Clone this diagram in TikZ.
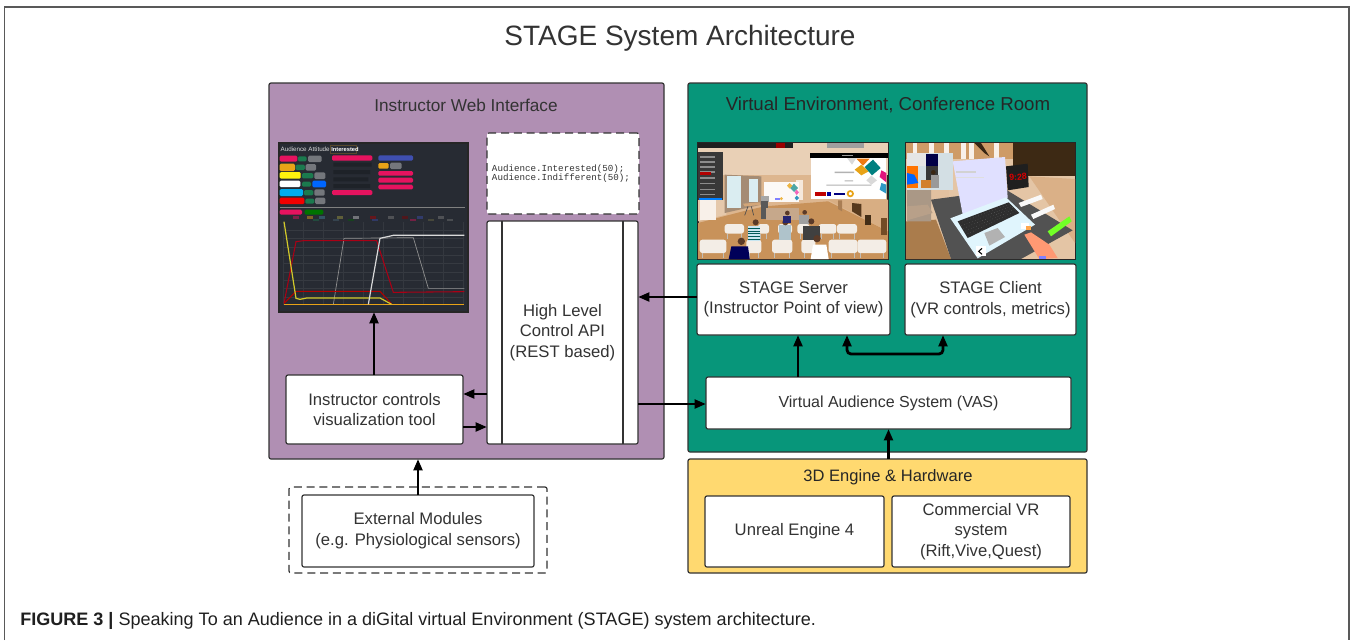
\documentclass[tikz,border=0pt]{standalone}
\usepackage{fontspec}
\setmainfont{Liberation Sans}
\setmonofont{Liberation Mono}
\usetikzlibrary{arrows.meta,calc}
\definecolor{txt}{HTML}{333333}
\definecolor{edge}{HTML}{333333}
\definecolor{purp}{HTML}{B08FB3}
\definecolor{teal1}{HTML}{07967A}
\definecolor{yell}{HTML}{FFD970}
\definecolor{dbg}{HTML}{272B33}
\definecolor{pk}{HTML}{E6135F}
\definecolor{gn}{HTML}{1B7A4E}
\definecolor{gy}{HTML}{74777C}
\definecolor{or}{HTML}{E8A317}
\definecolor{blu}{HTML}{3F4FB0}
\definecolor{wood}{HTML}{C8925A}
\definecolor{wall}{HTML}{DDB68F}
\definecolor{chair}{HTML}{F3EDE6}
\definecolor{skin}{HTML}{5A3A28}
\tikzset{
  panel/.style={draw=edge,line width=0.9pt,rounded corners=1.5pt,inner sep=0pt,outer sep=0pt},
  wbox/.style={panel,fill=white,text=txt,align=center,font=\fontsize{12.5}{15.5}\selectfont},
  dashbox/.style={wbox,dash pattern=on 6pt off 3.6pt},
  title/.style={text=#1,inner sep=0pt},
  title/.default=txt,
  arr/.style={line width=2.1pt,draw=black,-{Triangle[length=8.5pt,width=6.5pt]}},
  arrb/.style={line width=2.1pt,draw=black,{Triangle[length=8.5pt,width=6.5pt]}-{Triangle[length=8.5pt,width=6.5pt]},rounded corners=3pt},
  shot/.style={draw=black!85,line width=1.1pt,inner sep=0pt,outer sep=0pt}
}
\newcommand\bx[7]{\node[#1,minimum width={(#5-#3)*0.75pt},minimum height={(#6-#4)*0.75pt}] (#2) at ({(#3+#5)/2},{(#4+#6)/2}) {#7};}
\newcommand\rr[5]{\fill[#1,rounded corners=1pt] (#2,#3) rectangle (#4,#5);}
\begin{document}
\begin{tikzpicture}[x=0.75pt,y=-0.75pt]
\useasboundingbox (0,0) rectangle (1352,640);
% outer frame
\coordinate (fa) at (4.5,640); \coordinate (fb) at (4.5,7); \coordinate (fc) at (1349,7); \coordinate (fd) at (1349,640);
\draw[draw=black!65,line width=0.9pt] (fa) -- (fb) -- (fc) -- (fd);
\node[text=txt,font=\fontsize{21}{25}\selectfont,inner sep=0pt] (maintitle) at (680,38) {STAGE System Architecture};
% panels
\bx{panel,fill=purp}{web}{269}{83}{664}{459}{}
\bx{panel,fill=teal1}{venv}{688}{83}{1087}{452}{}
\bx{panel,fill=yell}{eng}{688}{459}{1087}{573}{}
\node[title,font=\fontsize{12.9}{15}\selectfont] (webt) at (466,105) {Instructor Web Interface};
\node[title=black!85,font=\fontsize{14}{15}\selectfont] (vent) at (888,105) {Virtual Environment, Conference Room};
\node[title=black!85,font=\fontsize{12.4}{15}\selectfont] (engt) at (888,477) {3D Engine \& Hardware};
% boxes
\bx{dashbox}{code}{487}{133}{639}{214}{}
\node[inner sep=0pt,text=txt,align=left,font=\ttfamily\fontsize{6.9}{6.75}\selectfont] (codet) at (561,174) {Audience.Interested(50);\\Audience.Indifferent(50);};
\bx{wbox}{api}{487}{221}{638}{444}{High Level\\Control API\\(REST based)}
\draw[edge,line width=0.9pt] (api.north -| 502,0) -- (api.south -| 502,0);
\draw[edge,line width=0.9pt] (api.north -| 623,0) -- (api.south -| 623,0);
\bx{wbox}{ctl}{286}{375}{463}{444}{Instructor controls\\visualization tool}
\bx{dashbox}{extout}{289}{487}{547}{573}{}
\bx{wbox}{ext}{302}{495}{534}{567}{External Modules\\(e.g. Physiological sensors)}
\bx{wbox}{srv}{697}{264}{890}{335}{STAGE Server\\(Instructor Point of view)}
\bx{wbox}{cli}{905}{264}{1076}{335}{STAGE Client\\(VR controls, metrics)}
\bx{wbox,font=\fontsize{12}{15}\selectfont}{vas}{706}{377}{1071}{429}{Virtual Audience System (VAS)}
\bx{wbox}{ue}{705}{496}{884}{567}{Unreal Engine 4}
\bx{wbox}{vr}{892}{496}{1070}{567}{Commercial VR\\system\\(Rift,Vive,Quest)}
% dashboard screenshot
\bx{shot,fill=dbg}{dash}{279}{143}{468}{312}{}
\begin{scope}[shift={(270,130)},x=0.25pt,y=-0.25pt]
\node[text=white!85!black,font=\fontsize{4.7}{6}\selectfont,anchor=west,inner sep=0pt] (dt1) at (31,59) {Audience Attitude};
\draw[or!25!dbg,line width=.3pt] (180,47) rectangle (260,71);
\node[text=white,font=\bfseries\fontsize{4.3}{6}\selectfont,anchor=west,inner sep=0pt] (dt2) at (183,59) {Interested};
\rr{pk}{29}{77}{82}{95}\rr{gn}{84}{79}{110}{94}\rr{gy,rounded corners=8pt}{114}{77}{155}{96}
\rr{or}{29}{101}{75}{123}\rr{gn}{77}{104}{105}{120}\rr{gy,rounded corners=8pt}{107}{102}{138}{122}
\rr{yellow!95!white}{29}{126}{92}{146}\rr{gn}{96}{129}{130}{145}\rr{gy,rounded corners=8pt}{133}{127}{166}{147}
\rr{white}{29}{152}{91}{171}\rr{gn}{96}{155}{123}{170}\rr{blue!60!cyan,rounded corners=8pt}{127}{152}{168}{172}
\rr{cyan}{29}{177}{99}{198}\rr{gn}{102}{180}{130}{196}\rr{gy,rounded corners=8pt}{133}{178}{164}{197}
\rr{red!95!black}{29}{203}{103}{222}\rr{gn}{106}{206}{133}{221}\rr{gy,rounded corners=8pt}{135}{203}{166}{222}
\rr{pk}{186}{76}{307}{92}\rr{pk}{186}{180}{307}{195}
\rr{blu}{325}{76}{429}{92}\rr{or}{325}{99}{356}{116}\rr{gy,rounded corners=8pt}{360}{98}{395}{117}
\rr{pk}{325}{123}{429}{137}\rr{pk}{325}{143}{429}{158}\rr{pk}{325}{164}{429}{178}
\fill[black!22!dbg] (190,98) rectangle (305,110) (190,120) rectangle (300,132) (190,142) rectangle (295,154) (190,162) rectangle (300,174);
\draw[gray,line width=0.8pt] (30,232) -- (585,232);
\rr{pk}{29}{239}{96}{254}\rr{green!45!black}{104}{239}{160}{254}
\foreach \xx/\cc in {70/pk,110/or,148/cyan!60!black,200/yellow!60!black,250/white!80!black,300/red!70!black,355/gray,395/red!50!black,440/blu,505/gray}{\fill[\cc,opacity=.45] (\xx,259) rectangle +(18,7);}
\foreach \xx/\cc in {130/gn,190/cyan!40!black,235/green!40!black,305/blu,420/pk,475/yellow!40!black,530/gray}{\fill[\cc,opacity=.4] (\xx,268) rectangle +(18,6);}
\foreach \yy in {300,325,350,375,400,425,450,475,500,523}{\draw[white!7!dbg,line width=.2pt] (40,\yy) -- (583,\yy);}
\foreach \xx in {40,100,160,220,280,340,400,460,520,580}{\draw[white!6!dbg,line width=.2pt] (\xx,275) -- (\xx,525);}
\draw[or,line width=.9pt] (42,523) -- (583,523);
\draw[gray!85,line width=.5pt] (190,523) -- (222,325) -- (430,323) -- (475,475) -- (583,475);
\draw[red!55!purple!75!black,line width=.8pt] (42,520) -- (78,335) -- (100,332) -- (320,332) -- (370,487) -- (583,485);
\draw[red!70!black,line width=.8pt] (42,520) -- (78,484) -- (330,484) -- (365,522);
\draw[yellow!80!black,line width=.9pt] (42,275) -- (78,505) -- (90,508) -- (110,504) -- (330,504) -- (365,523);
\draw[white!85!black,line width=.9pt] (295,523) -- (330,325) -- (370,316) -- (583,316);
\end{scope}
% server screenshot
\bx{shot,fill=wall}{simg}{698}{143}{888}{259}{}
\begin{scope}[shift={(698,143)},x=0.25pt,y=-0.25pt]
\clip (0,0) rectangle (570,348);
\fill[wall!65!white] (0,0) rectangle (570,95);
\fill[wood] (0,348) -- (0,240) -- (135,205) -- (200,190) -- (390,175) -- (570,265) -- (570,348) -- cycle;
\fill[wall!75!white] (0,170) -- (85,170) -- (85,215) -- (0,235) -- cycle;
\fill[white!80!wall] (5,172) rectangle (55,230);
\fill[wall!70!black!90!white] (80,95) -- (190,100) -- (190,185) -- (80,210) -- cycle;
\fill[white!85!cyan!90!wall] (88,100) rectangle (130,195);
\fill[white!85!cyan!90!wall] (153,108) rectangle (180,178);
\fill[white!70!wall] (295,112) rectangle (316,172);
\fill[white!92!wall] (197,118) rectangle (303,178);
\fill[teal!70] (288,122) -- (300,135) -- (288,147) -- (276,135) -- cycle;
\fill[or!80] (275,120) -- (283,128) -- (275,137) -- (267,128) -- cycle;
\fill[magenta!60] (296,140) -- (303,148) -- (296,156) -- (290,148) -- cycle;
\fill[cyan!50!teal] (296,158) -- (303,165) -- (296,172) -- (290,165) -- cycle;
\fill[or!80] (250,167) circle (5); \fill[blue!50] (232,165) rectangle (245,172);
% right wall
\fill[wall!85!brown] (390,170) -- (570,170) -- (570,265) -- cycle;
\fill[brown!70!black!60!wall] (420,172) -- (432,172) -- (432,205) -- (420,198) -- cycle;
\fill[black!55!brown] (462,180) -- (490,183) -- (490,222) -- (462,205) -- cycle;
\fill[black!65!brown] (500,215) rectangle (518,245);
\fill[black!40!brown] (548,225) rectangle (566,275);
% table and stand
\fill[brown!70!white] (135,182) -- (185,178) -- (188,186) -- (140,190) -- cycle;
\draw[black!70,line width=.5pt] (150,190) -- (140,217) (160,190) -- (167,217);
\fill[gray!70] (188,160) rectangle (213,178);
\fill[black!65] (190,175) rectangle (210,228);
\foreach \a in {205,238,270}{\fill[gray!25!wall] (\a,195) rectangle (\a+33,232);}
% UI
\fill[black!88] (0,0) rectangle (285,15);
\fill[red!60!black] (235,1) rectangle (262,14);
\fill[gray!75] (388,0) rectangle (498,15);
\fill[black!78] (0,27) rectangle (75,172);
\fill[blue!50!cyan] (3,165) rectangle (72,171);
\foreach \yy in {40,55,70,85,103,120,137,153}{\fill[white!55!black] (5,\yy) rectangle (50,\yy+4);}
\fill[red!70!black] (5,87) rectangle (38,97);
% slide
\fill[black] (335,30) rectangle (570,45);
\fill[gray!80] (432,35) rectangle (465,40);
\fill[white] (338,45) rectangle (565,167);
\fill[gray!30] (447,45) -- (475,45) -- (462,65) -- cycle;
\fill[or!75!red] (475,47) -- (515,47) -- (495,68) -- cycle;
\fill[or] (490,65) -- (512,85) -- (490,97) -- (470,80) -- cycle;
\fill[teal] (525,50) -- (548,75) -- (522,97) -- (500,72) -- cycle;
\fill[magenta!75!purple] (550,82) -- (565,90) -- (565,118) -- (545,102) -- cycle;
\fill[cyan!55!teal] (550,120) -- (565,125) -- (565,152) -- (545,140) -- cycle;
\fill[gray!30] (520,98) -- (537,112) -- (520,125) -- (505,112) -- cycle;
\fill[gray!60] (410,86) rectangle (468,90) (440,112) rectangle (465,115) (385,125) rectangle (520,128);
\fill[red!75!black] (352,147) rectangle (385,160); \fill[blue!60!black] (387,148) rectangle (400,158); \fill[blue!50!black] (408,149) rectangle (442,157);
\draw[or,line width=1.3pt] (457,152) circle (8);
% chairs and audience
\foreach \a/\b/\c/\d in {80/243/138/272,180/243/213/272,240/243/282/272,298/243/335/272,362/243/415/272,417/243/477/272,5/290/85/330,145/290/190/330,222/290/283/330,310/290/352/330,392/290/478/330,478/290/565/330}{
  \draw[chair!80!black,line width=.6pt] (\a+8,\d) -- (\a+8,\d+16) (\c-8,\d) -- (\c-8,\d+16);
  \fill[chair,rounded corners=2pt] (\a,\b) rectangle (\c,\d);}
\fill[cyan!20!white!90!gray] (150,250) rectangle (185,295); \foreach \yy in {255,263,271,279,287}{\fill[teal!70!black] (150,\yy) rectangle (185,\yy+2);}
\fill[skin] (173,238) circle (9);
\fill[blue!35!black] (92,348) -- (100,310) -- (150,310) -- (155,348) -- cycle; \fill[skin] (130,295) circle (11);
\fill[cyan!25!gray!60!white] (243,245) rectangle (280,290); \fill[skin] (262,238) circle (9);
\fill[blue!35!black!85!white] (255,218) rectangle (280,240); \fill[skin] (268,210) circle (7);
\fill[gray!75] (304,217) rectangle (334,242); \fill[skin] (320,208) circle (7);
\fill[black!75] (315,248) rectangle (365,290); \fill[skin] (340,235) circle (9);
\fill[white] (338,348) -- (345,305) -- (385,305) -- (392,348) -- cycle; \fill[skin] (357,287) circle (11);
\end{scope}
% client screenshot
\bx{shot,fill=wall}{cimg}{906}{143}{1075}{259}{}
\begin{scope}[shift={(906,143)},x=0.25pt,y=-0.25pt]
\clip (0,0) rectangle (507,348);
\fill[wall!80!white] (0,0) rectangle (507,348);
\fill[brown!50!wall] (0,0) rectangle (322,48);
\foreach \xx in {20,70,115,165,190,265}{\fill[white!80!wall] (\xx,0) rectangle +(14,48);}
\fill[black!70!brown] (205,0) -- (225,0) -- (250,40) -- (235,30) -- cycle;
\fill[black!68!brown] (322,0) rectangle (507,100);
\fill[wall!90!brown] (370,100) -- (507,108) -- (507,300) -- cycle;
\fill[wall!85!white] (0,140) rectangle (130,180);
\fill[wood!85!black] (0,235) -- (90,230) -- (135,348) -- (0,348) -- cycle;
\fill[gray!55!wall] (3,140) -- (75,135) -- (75,235) -- (3,235) -- cycle;
\fill[gray!40!wall] (3,190) -- (65,185) -- (80,210) -- (3,232) -- cycle;
\fill[gray!25!white!92!cyan] (3,30) rectangle (140,140);
\fill[white!80!gray] (3,30) rectangle (60,68);
\fill[black!72!blue] (60,32) rectangle (97,68);
\fill[black!78] (60,68) rectangle (97,135);
\fill[orange!90!red] (3,68) rectangle (37,135);
\fill[blue!60!cyan] (3,90) -- (25,95) -- (37,120) -- (3,125) -- cycle;
\fill[brown!70!orange] (45,110) rectangle (80,135);
\fill[gray!80] (76,95) rectangle (98,135);
\fill[black!70!brown] (82,88) circle (7);
% desk
\fill[black!68] (75,170) -- (300,140) -- (500,262) -- (345,348) -- (135,348) -- cycle;
\fill[white!88!blue] (140,55) -- (297,42) -- (305,165) -- (172,225) -- cycle;
\fill[gray!35] (150,85) rectangle (210,89); \fill[gray!25] (150,103) rectangle (235,106);
\fill[white!88!cyan] (133,226) -- (300,163) -- (387,245) -- (215,346) -- cycle;
\fill[black!82] (155,235) -- (308,178) -- (340,210) -- (185,285) -- cycle;
\foreach \k in {0,.2,.4,.6,.8}{\draw[white!70!black,line width=.2pt,dotted] ($(160,240)!\k!(192,280)$) -- ($(312,184)!\k!(335,208)$);}
\fill[gray!60] (235,270) -- (275,255) -- (297,282) -- (250,308) -- cycle;
\fill[white] (210,310) rectangle (240,340);
\draw[black,line width=.8pt] (228,316) -- (218,325) -- (228,334);
\fill[black!88] (300,70) -- (365,62) -- (368,132) -- (305,142) -- cycle;
\node[text=red!85!black,font=\bfseries\fontsize{6.6}{7}\selectfont,inner sep=0pt,rotate=5] (clock) at (336,102) {9:28};
\fill[white!95!gray] (338,180) -- (405,155) -- (410,168) -- (345,192) -- cycle;
\fill[white!95!gray] (375,215) -- (442,185) -- (447,198) -- (382,228) -- cycle;
\fill[green!65!yellow!85!white] (425,265) -- (490,220) -- (497,235) -- (435,280) -- cycle;
\fill[white] (345,240) rectangle (368,258);
\fill[orange!70!white] (360,248) rectangle (375,262);
\fill[orange!55!red!55!white] (355,275) -- (375,268) -- (430,305) -- (455,345) -- (400,348) -- cycle;
\fill[blue!50!white] (400,338) rectangle (420,348);
\end{scope}
% connectors
\draw[arr] (ctl.north -| 374,0) -- (dash.south -| 374,0);
\draw[arr] (api.west |- 0,394) -- (ctl.east |- 0,394);
\draw[arr] (ctl.east |- 0,427) -- (api.west |- 0,427);
\draw[arr] (api.east |- 0,404) -- (vas.west |- 0,404);
\draw[arr] (srv.west |- 0,297) -- (api.east |- 0,297);
\draw[arr] (vas.north -| 798,0) -- (srv.south -| 798,0);
\draw[arrb] (srv.south -| 847,0) -- (847,354) -- (943,354) -- (cli.south -| 943,0);
\draw[arr] (eng.north -| vas.south) -- (vas.south);
\draw[arr] (ext.north -| 418,0) -- (web.south -| 418,0);
% caption
\node[anchor=west,inner sep=0pt,text=black!88,font=\fontsize{13.53}{16}\selectfont] (cap) at (20,621) {\textbf{FIGURE 3 |} Speaking To an Audience in a diGital virtual Environment (STAGE) system architecture.};
\end{tikzpicture}
\end{document}
